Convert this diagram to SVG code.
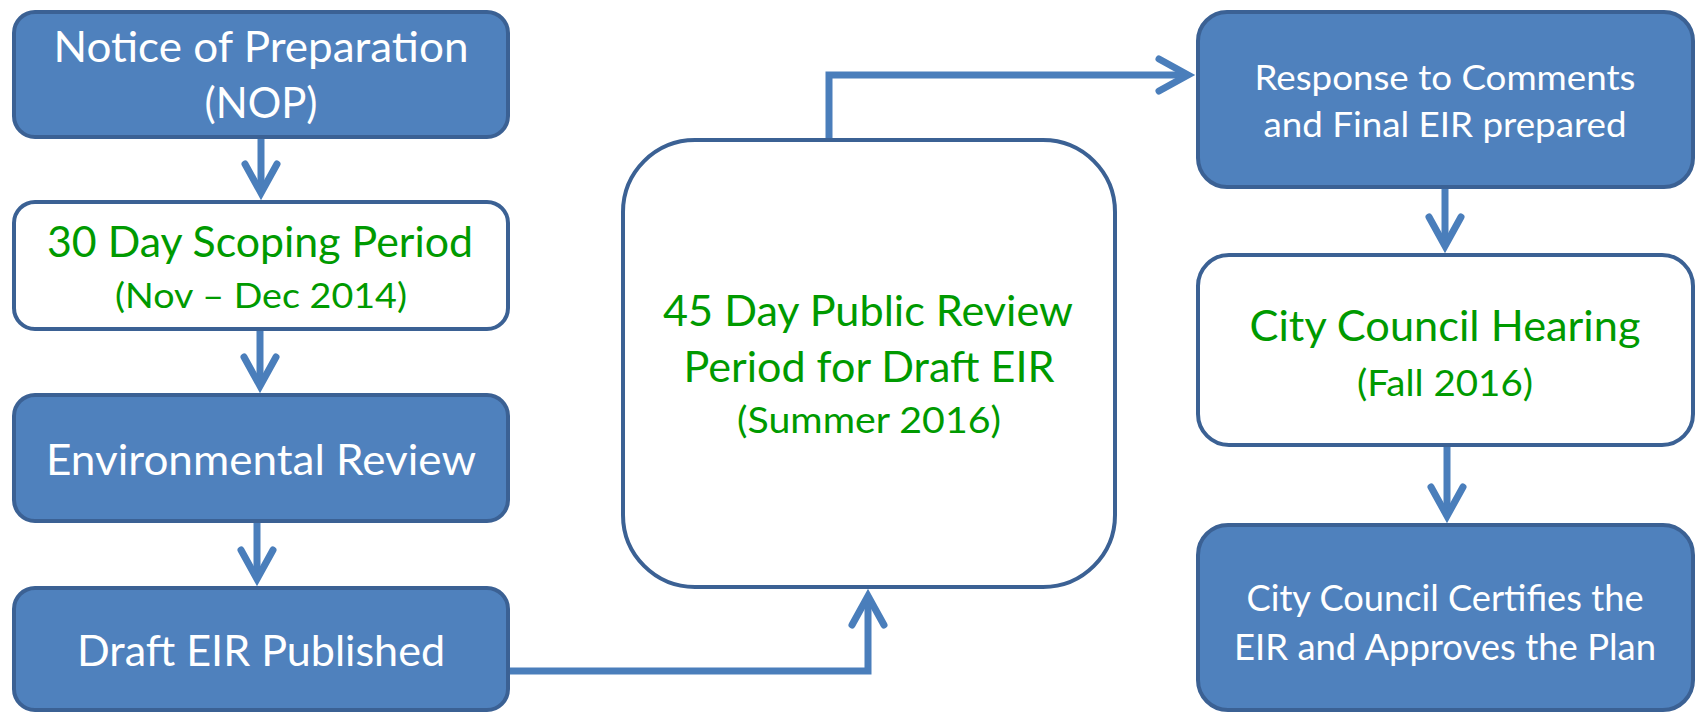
<svg xmlns="http://www.w3.org/2000/svg" width="1700" height="714" viewBox="0 0 1700 714">
  <style>
    .box { stroke: #3b6194; stroke-width: 4; }
    .solid { fill: #4f81bd; }
    .open { fill: #ffffff; }
    .t { font-family: Lato, "Open Sans", "Liberation Sans", sans-serif; text-anchor: middle; }
    .w { fill: #ffffff; }
    .g { fill: #009a00; }
    .conn { fill: none; stroke: #4a7ebb; stroke-width: 7; stroke-linejoin: miter; marker-end: url(#chev); }
  </style>
  <defs>
    <marker id="chev" markerUnits="userSpaceOnUse" viewBox="-34 -22 46 44" refX="0" refY="0" markerWidth="46" markerHeight="44" orient="auto">
      <path d="M-29,-16 L0,0 L-29,16" fill="none" stroke="#4a7ebb" stroke-width="7" stroke-linecap="round" stroke-linejoin="miter"/>
    </marker>
  </defs>
  <rect width="1700" height="714" fill="#ffffff"/>

  <g id="connectors">
    <path class="conn" d="M261,139 V193"/>
    <path class="conn" d="M260,331 V386"/>
    <path class="conn" d="M257,523 V579"/>
    <path class="conn" d="M510,671 H868 V596"/>
    <path class="conn" d="M829,140 V75 H1188"/>
    <path class="conn" d="M1445,189 V246"/>
    <path class="conn" d="M1447,447 V516"/>
  </g>

  <g id="nop">
    <rect class="box solid" x="14" y="12" width="494" height="125" rx="21"/>
    <text class="t w" x="261" y="62" font-size="42" textLength="415" lengthAdjust="spacingAndGlyphs">Notice of Preparation</text>
    <text class="t w" x="261" y="118" font-size="42" textLength="113" lengthAdjust="spacingAndGlyphs">(NOP)</text>
  </g>

  <g id="scoping">
    <rect class="box open" x="14" y="202" width="494" height="127" rx="21"/>
    <text class="t g" x="260" y="257" font-size="42" textLength="426" lengthAdjust="spacingAndGlyphs">30 Day Scoping Period</text>
    <text class="t g" x="261" y="308" font-size="35" textLength="292" lengthAdjust="spacingAndGlyphs">(Nov – Dec 2014)</text>
  </g>

  <g id="env-review">
    <rect class="box solid" x="14" y="395" width="494" height="126" rx="21"/>
    <text class="t w" x="261" y="475" font-size="42" textLength="430" lengthAdjust="spacingAndGlyphs">Environmental Review</text>
  </g>

  <g id="draft-eir">
    <rect class="box solid" x="14" y="588" width="494" height="122" rx="21"/>
    <text class="t w" x="261" y="666" font-size="43" textLength="368" lengthAdjust="spacingAndGlyphs">Draft EIR Published</text>
  </g>

  <g id="public-review">
    <rect class="box open" x="623" y="140" width="492" height="447" rx="72"/>
    <text class="t g" x="868" y="326" font-size="42" textLength="410" lengthAdjust="spacingAndGlyphs">45 Day Public Review</text>
    <text class="t g" x="869" y="382" font-size="42" textLength="371" lengthAdjust="spacingAndGlyphs">Period for Draft EIR</text>
    <text class="t g" x="869" y="433" font-size="36" textLength="264" lengthAdjust="spacingAndGlyphs">(Summer 2016)</text>
  </g>

  <g id="final-eir">
    <rect class="box solid" x="1198" y="12" width="495" height="175" rx="29"/>
    <text class="t w" x="1445" y="90" font-size="35" textLength="381" lengthAdjust="spacingAndGlyphs">Response to Comments</text>
    <text class="t w" x="1445" y="137" font-size="35" textLength="363" lengthAdjust="spacingAndGlyphs">and Final EIR prepared</text>
  </g>

  <g id="hearing">
    <rect class="box open" x="1198" y="255" width="495" height="190" rx="31"/>
    <text class="t g" x="1445" y="341" font-size="43" textLength="391" lengthAdjust="spacingAndGlyphs">City Council Hearing</text>
    <text class="t g" x="1445" y="396" font-size="36" textLength="176" lengthAdjust="spacingAndGlyphs">(Fall 2016)</text>
  </g>

  <g id="certifies">
    <rect class="box solid" x="1198" y="525" width="495" height="185" rx="30"/>
    <text class="t w" x="1445" y="611" font-size="36" textLength="397" lengthAdjust="spacingAndGlyphs">City Council Certifies the</text>
    <text class="t w" x="1445" y="660" font-size="36" textLength="422" lengthAdjust="spacingAndGlyphs">EIR and Approves the Plan</text>
  </g>
</svg>
